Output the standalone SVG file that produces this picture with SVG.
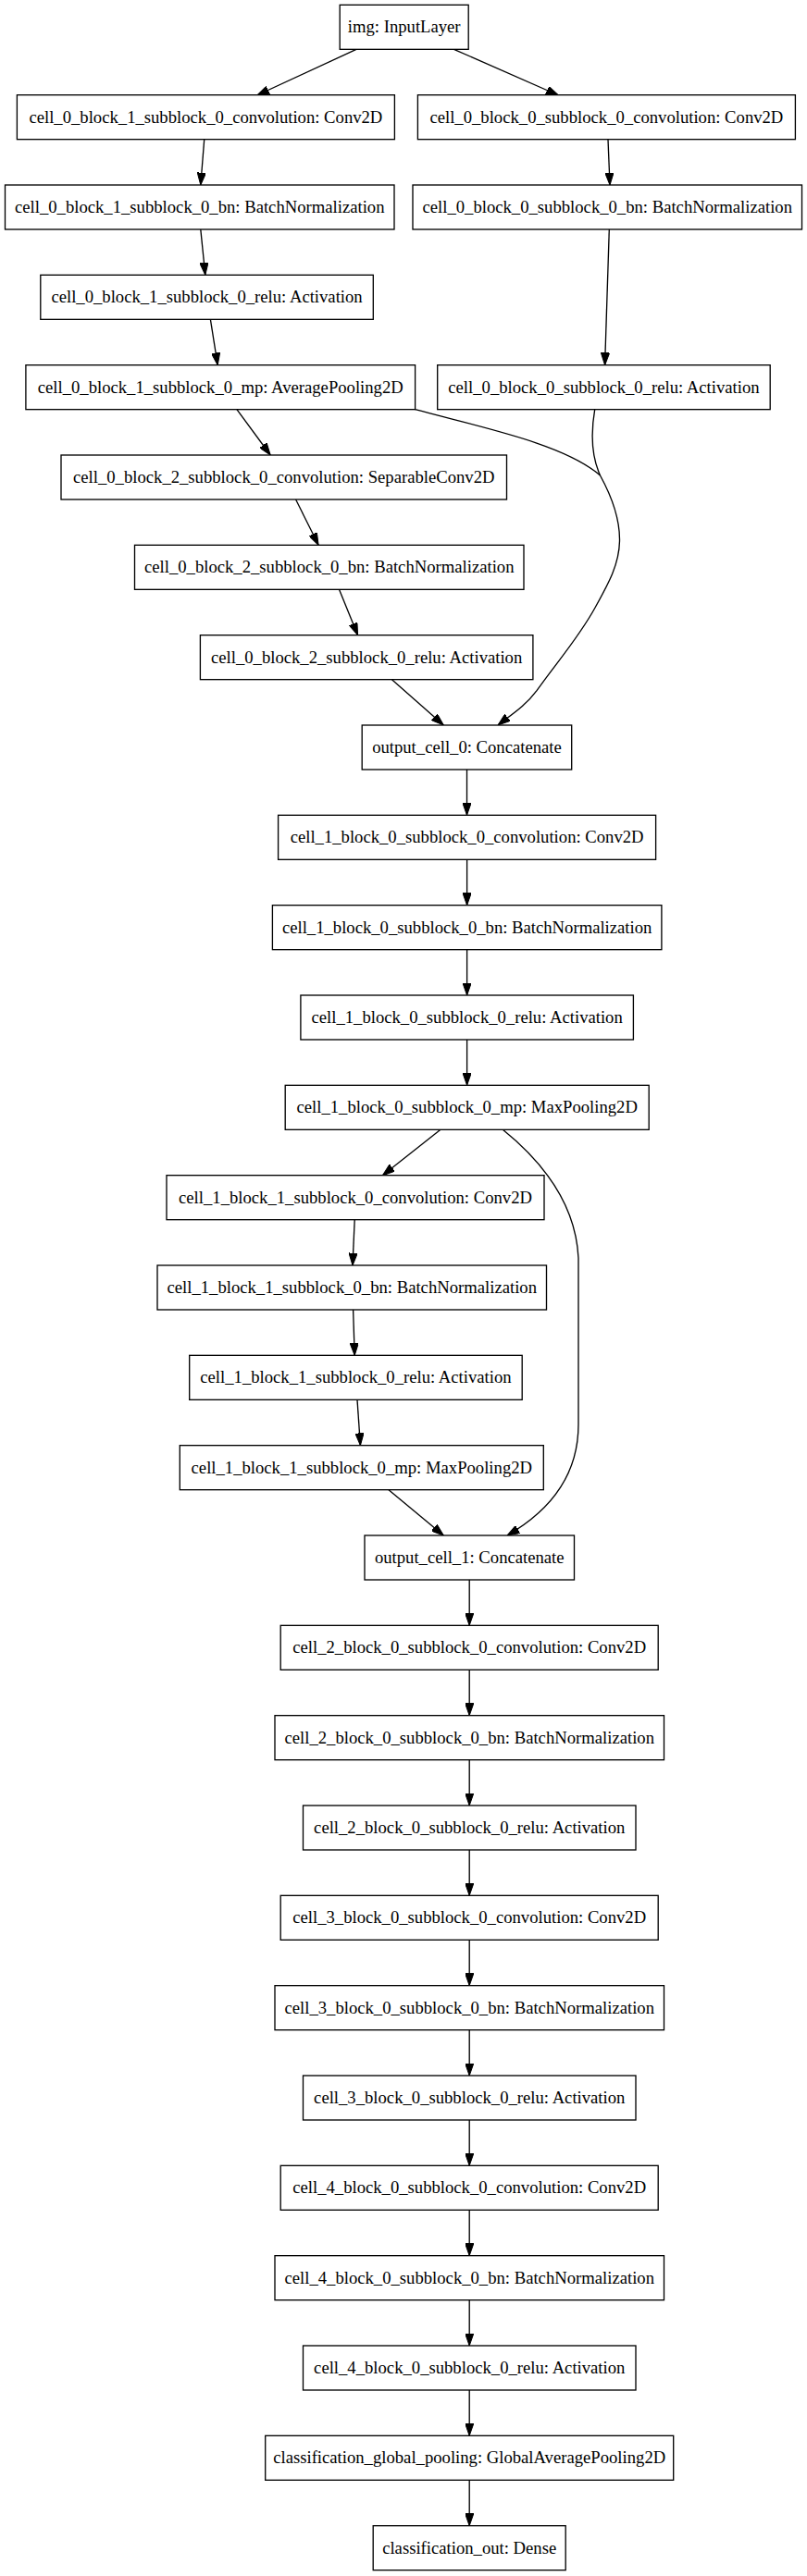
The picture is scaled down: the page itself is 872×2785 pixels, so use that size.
<svg xmlns="http://www.w3.org/2000/svg" width="872" height="2785" viewBox="0 0 872 2785">
<style>
.n{fill:#fff;stroke:#000;stroke-width:1.33}
.t{font-family:"Liberation Serif","Times New Roman",serif;font-size:18.67px;text-anchor:middle;fill:#000}
.e{fill:none;stroke:#000;stroke-width:1.33;marker-end:url(#ah)}
.m{fill:none;stroke:#000;stroke-width:1.33}
</style>
<defs>
<marker id="ah" viewBox="0 0 13.33 9.33" refX="13.33" refY="4.67" markerWidth="13.33" markerHeight="9.33" markerUnits="userSpaceOnUse" orient="auto">
<path d="M0,0 L13.33,4.67 L0,9.33 z" fill="#000" stroke="#000" stroke-width="1"/>
</marker>
</defs>
<rect width="872" height="2785" fill="#fff"/>
<g id="edges">
<path class="e" d="M385,53.3 L277.7,103"/>
<path class="e" d="M490.5,53.3 L603.4,103"/>
<path class="e" d="M220.7,151 L216.8,200"/>
<path class="e" d="M657,151 L659,200"/>
<path class="e" d="M216.8,248 L221.8,297.3"/>
<path class="e" d="M658.3,248 L653.6,394.7"/>
<path class="e" d="M227.4,345.3 L235.2,394.7"/>
<path class="e" d="M255.9,442.7 L292.2,492"/>
<path class="m" d="M448.6,442.7 C520,462 610,480 648.5,514"/>
<path class="m" d="M642.7,442.7 C638,470 640,495 648.5,514"/>
<path class="e" d="M648.5,514 C660,535 670,560 669.5,585 C669,610 658,630 643,657 C625,690 600,718 580,746.7 C568,763 552,773 538,784"/>
<path class="e" d="M319.6,540 L344.1,589.3"/>
<path class="e" d="M366.5,637.3 L386.6,686.7"/>
<path class="e" d="M423.5,734.7 L479.3,784"/>
<path class="e" d="M504.5,832 L504.5,881.3"/>
<path class="e" d="M504.6,929.3 L504.6,978.7"/>
<path class="e" d="M504.6,1026.7 L504.6,1076"/>
<path class="e" d="M504.6,1124 L504.6,1173.3"/>
<path class="e" d="M476,1221.3 L413.4,1270.7"/>
<path class="e" d="M543.3,1221.3 C585,1255 622,1300 625,1360 L625,1540 C625,1590 600,1630 548,1660"/>
<path class="e" d="M383.2,1318.7 L381,1368"/>
<path class="e" d="M381.6,1416 L383.2,1465.3"/>
<path class="e" d="M386,1513.3 L389.4,1562.7"/>
<path class="e" d="M420,1610.7 L479.3,1660"/>
<path class="e" d="M507.2,1708 L507.2,1757.3"/>
<path class="e" d="M507.2,1805.3 L507.2,1854.7"/>
<path class="e" d="M507.2,1902.7 L507.2,1952"/>
<path class="e" d="M507.2,2000 L507.2,2049.3"/>
<path class="e" d="M507.2,2097.3 L507.2,2146.7"/>
<path class="e" d="M507.2,2194.7 L507.2,2244"/>
<path class="e" d="M507.2,2292 L507.2,2341.3"/>
<path class="e" d="M507.2,2389.3 L507.2,2438.7"/>
<path class="e" d="M507.2,2486.7 L507.2,2536"/>
<path class="e" d="M507.2,2584 L507.2,2633.3"/>
<path class="e" d="M507.2,2681.3 L507.2,2730.7"/>
</g>
<g id="img"><rect class="n" x="367.2" y="5.33" width="139" height="48"/><text class="t" x="436.7" y="35.33">img: InputLayer</text></g>
<g id="c0b1conv"><rect class="n" x="18.4" y="102.67" width="408" height="48"/><text class="t" x="222.4" y="132.67">cell_0_block_1_subblock_0_convolution: Conv2D</text></g>
<g id="c0b0conv"><rect class="n" x="451.4" y="102.67" width="408" height="48"/><text class="t" x="655.4" y="132.67">cell_0_block_0_subblock_0_convolution: Conv2D</text></g>
<g id="c0b1bn"><rect class="n" x="5.5" y="200" width="420.5" height="48"/><text class="t" x="215.75" y="230">cell_0_block_1_subblock_0_bn: BatchNormalization</text></g>
<g id="c0b0bn"><rect class="n" x="446" y="200" width="420.5" height="48"/><text class="t" x="656.25" y="230">cell_0_block_0_subblock_0_bn: BatchNormalization</text></g>
<g id="c0b1relu"><rect class="n" x="43.8" y="297.33" width="359.5" height="48"/><text class="t" x="223.55" y="327.33">cell_0_block_1_subblock_0_relu: Activation</text></g>
<g id="c0b1mp"><rect class="n" x="27.9" y="394.67" width="420.7" height="48"/><text class="t" x="238.25" y="424.67">cell_0_block_1_subblock_0_mp: AveragePooling2D</text></g>
<g id="c0b0relu"><rect class="n" x="472.7" y="394.67" width="359.5" height="48"/><text class="t" x="652.45" y="424.67">cell_0_block_0_subblock_0_relu: Activation</text></g>
<g id="c0b2conv"><rect class="n" x="66" y="492" width="481.5" height="48"/><text class="t" x="306.75" y="522">cell_0_block_2_subblock_0_convolution: SeparableConv2D</text></g>
<g id="c0b2bn"><rect class="n" x="145.5" y="589.33" width="420.5" height="48"/><text class="t" x="355.75" y="619.33">cell_0_block_2_subblock_0_bn: BatchNormalization</text></g>
<g id="c0b2relu"><rect class="n" x="216.4" y="686.67" width="359.5" height="48"/><text class="t" x="396.15" y="716.67">cell_0_block_2_subblock_0_relu: Activation</text></g>
<g id="oc0"><rect class="n" x="391.2" y="784" width="226.5" height="48"/><text class="t" x="504.45" y="814">output_cell_0: Concatenate</text></g>
<g id="c1conv"><rect class="n" x="300.6" y="881.33" width="408" height="48"/><text class="t" x="504.6" y="911.33">cell_1_block_0_subblock_0_convolution: Conv2D</text></g>
<g id="c1bn"><rect class="n" x="294.4" y="978.67" width="420.5" height="48"/><text class="t" x="504.65" y="1008.67">cell_1_block_0_subblock_0_bn: BatchNormalization</text></g>
<g id="c1relu"><rect class="n" x="324.9" y="1076" width="359.5" height="48"/><text class="t" x="504.65" y="1106">cell_1_block_0_subblock_0_relu: Activation</text></g>
<g id="c1mp"><rect class="n" x="308.2" y="1173.33" width="393" height="48"/><text class="t" x="504.7" y="1203.33">cell_1_block_0_subblock_0_mp: MaxPooling2D</text></g>
<g id="c1b1conv"><rect class="n" x="180" y="1270.67" width="408" height="48"/><text class="t" x="384" y="1300.67">cell_1_block_1_subblock_0_convolution: Conv2D</text></g>
<g id="c1b1bn"><rect class="n" x="170" y="1368" width="420.5" height="48"/><text class="t" x="380.25" y="1398">cell_1_block_1_subblock_0_bn: BatchNormalization</text></g>
<g id="c1b1relu"><rect class="n" x="204.7" y="1465.33" width="359.5" height="48"/><text class="t" x="384.45" y="1495.33">cell_1_block_1_subblock_0_relu: Activation</text></g>
<g id="c1b1mp"><rect class="n" x="194.3" y="1562.67" width="393" height="48"/><text class="t" x="390.8" y="1592.67">cell_1_block_1_subblock_0_mp: MaxPooling2D</text></g>
<g id="oc1"><rect class="n" x="394" y="1660" width="226.5" height="48"/><text class="t" x="507.25" y="1690">output_cell_1: Concatenate</text></g>
<g id="c2conv"><rect class="n" x="303.2" y="1757.33" width="408" height="48"/><text class="t" x="507.2" y="1787.33">cell_2_block_0_subblock_0_convolution: Conv2D</text></g>
<g id="c2bn"><rect class="n" x="297" y="1854.67" width="420.5" height="48"/><text class="t" x="507.25" y="1884.67">cell_2_block_0_subblock_0_bn: BatchNormalization</text></g>
<g id="c2relu"><rect class="n" x="327.5" y="1952" width="359.5" height="48"/><text class="t" x="507.25" y="1982">cell_2_block_0_subblock_0_relu: Activation</text></g>
<g id="c3conv"><rect class="n" x="303.2" y="2049.33" width="408" height="48"/><text class="t" x="507.2" y="2079.33">cell_3_block_0_subblock_0_convolution: Conv2D</text></g>
<g id="c3bn"><rect class="n" x="297" y="2146.67" width="420.5" height="48"/><text class="t" x="507.25" y="2176.67">cell_3_block_0_subblock_0_bn: BatchNormalization</text></g>
<g id="c3relu"><rect class="n" x="327.5" y="2244" width="359.5" height="48"/><text class="t" x="507.25" y="2274">cell_3_block_0_subblock_0_relu: Activation</text></g>
<g id="c4conv"><rect class="n" x="303.2" y="2341.33" width="408" height="48"/><text class="t" x="507.2" y="2371.33">cell_4_block_0_subblock_0_convolution: Conv2D</text></g>
<g id="c4bn"><rect class="n" x="297" y="2438.67" width="420.5" height="48"/><text class="t" x="507.25" y="2468.67">cell_4_block_0_subblock_0_bn: BatchNormalization</text></g>
<g id="c4relu"><rect class="n" x="327.5" y="2536" width="359.5" height="48"/><text class="t" x="507.25" y="2566">cell_4_block_0_subblock_0_relu: Activation</text></g>
<g id="gap"><rect class="n" x="286.7" y="2633.33" width="441" height="48"/><text class="t" x="507.2" y="2663.33">classification_global_pooling: GlobalAveragePooling2D</text></g>
<g id="dense"><rect class="n" x="403.2" y="2730.67" width="208" height="48"/><text class="t" x="507.2" y="2760.67">classification_out: Dense</text></g>
</svg>
